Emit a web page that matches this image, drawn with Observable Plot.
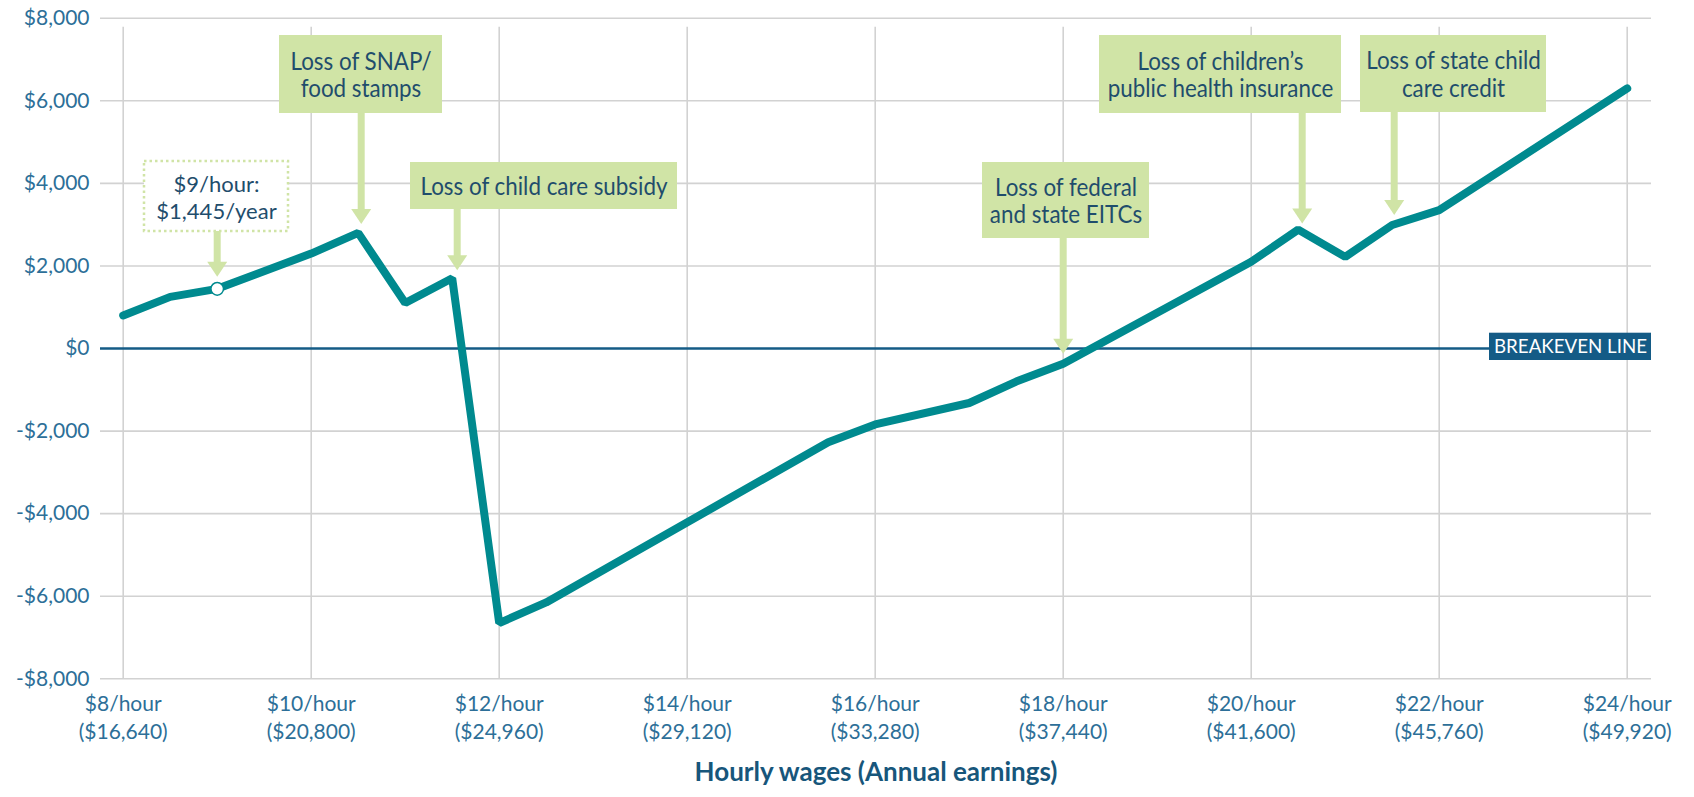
<!DOCTYPE html>
<html><head><meta charset="utf-8">
<script src="https://cdn.jsdelivr.net/npm/d3@7"></script>
<script src="https://cdn.jsdelivr.net/npm/@observablehq/plot@0.6"></script>
<style>html,body{margin:0;padding:0;background:#fff;} svg{display:block}</style>
</head><body><div id="chart"></div>
<script>
// ---------------- DATA ----------------
const wages        = [8, 8.5, 9, 10, 10.5, 11, 11.5, 12, 12.5, 15.5, 16, 17, 17.5, 18, 20, 20.5, 21, 21.5, 22, 24];
const netResources = [800, 1250, 1445, 2300, 2800, 1100, 1700, -6650, -6150, -2270, -1840, -1320, -800, -370, 2100, 2880, 2220, 2990, 3350, 6300];

const yTicks = [-8000, -6000, -4000, -2000, 0, 2000, 4000, 6000, 8000];
const xTicks = [8, 10, 12, 14, 16, 18, 20, 22, 24];
const xTickHourly = ["$8/hour", "$10/hour", "$12/hour", "$14/hour", "$16/hour", "$18/hour", "$20/hour", "$22/hour", "$24/hour"];
const xTickAnnual = ["($16,640)", "($20,800)", "($24,960)", "($29,120)", "($33,280)", "($37,440)", "($41,600)", "($45,760)", "($49,920)"];

const annotLabels = ["Loss of SNAP/\nfood stamps", "Loss of child care subsidy", "Loss of federal\nand state EITCs", "Loss of children\u2019s\npublic health insurance", "Loss of state child\ncare credit"];
const annotWages  = [10.5, 11.5, 18, 20.5, 21.5];

const highlightWage = 9;
const highlightLabel = "$9/hour:\n$1,445/year";
const breakevenLabel = "BREAKEVEN LINE";
const xTitle = "Hourly wages (Annual earnings)";

// ---------------- LAYOUT ----------------
const W = 1694, H = 797, mL = 100, mR = 43, mT = 17.7, mB = 118.7;
const xDomain = [7.7585, 24.2585], yDomain = [-8000, 8000];
const sx = d3.scaleLinear(xDomain, [mL, W - mR]);
const sy = d3.scaleLinear(yDomain, [H - mB, mT]);

// box: [left, right, top, bottom] in px; dx: arrow shift; gap: tip above point
const annotLayout = [
  {box: [279, 442, 35, 113], dx: 3, gap: 9},
  {box: [410, 677, 162, 209], dx: 5, gap: 8},
  {box: [982, 1149, 162, 238], dx: 0, gap: 10},
  {box: [1099, 1341, 35, 113], dx: 4, gap: 6},
  {box: [1360, 1546, 35, 112], dx: 2, gap: 10}
];
const highlightLayout = {box: [144, 288, 161, 231], dx: 0, gap: 12};
const breakevenBox = [1489, 1651, 332.7, 360];

const C = {
  line: "#008a8f", grid: "#d2d2d2", zero: "#145b86", green: "#d0e4a6",
  annText: "#1f4d6c", tick: "#2d6f98", title: "#17567b"
};
const baseFont = "Lato, 'Open Sans', sans-serif";

// ---------------- BUILD ----------------
const series = wages.map((w, i) => ({wage: w, net: netResources[i]}));
const valueAt = w => series.find(d => d.wage === w).net;

function buildAnnot(label, w, L) {
  const v = valueAt(w);
  const px = sx(w) + L.dx;
  const tip = sy(v) - L.gap;
  const [l, r, t, b] = L.box;
  return {
    label,
    x1: sx.invert(l), x2: sx.invert(r), y1: sy.invert(b), y2: sy.invert(t),
    cx: sx.invert((l + r) / 2), cy: sy.invert((t + b) / 2),
    ax: sx.invert(px), ay1: sy.invert(b), ay2: sy.invert(tip - 13), tip: sy.invert(tip)
  };
}
const annots = annotLabels.map((s, i) => buildAnnot(s, annotWages[i], annotLayout[i]));
const hl = buildAnnot(highlightLabel, highlightWage, highlightLayout);
const arrows = [...annots, hl];

const downTri = {draw(ctx) { ctx.moveTo(-10, -15); ctx.lineTo(10, -15); ctx.lineTo(0, 0); ctx.closePath(); }};

const fmtY = d => (d < 0 ? "-" : "") + "$" + d3.format(",")(Math.abs(d));

const be = {
  x1: sx.invert(breakevenBox[0]), x2: xDomain[1],
  y1: sy.invert(breakevenBox[3]), y2: sy.invert(breakevenBox[2]),
  cx: sx.invert((breakevenBox[0] + breakevenBox[1]) / 2), cy: sy.invert((breakevenBox[2] + breakevenBox[3]) / 2)
};

const chart = Plot.plot({
  width: W, height: H,
  marginLeft: mL, marginRight: mR, marginTop: mT, marginBottom: mB,
  x: {domain: xDomain, axis: null},
  y: {domain: yDomain, axis: null},
  style: {background: "#fff", fontFamily: baseFont},
  marks: [
    Plot.ruleY(yTicks.filter(d => d !== 0), {y: d => d, stroke: C.grid, strokeWidth: 1.6}),
    Plot.ruleX(xTicks, {x: d => d, y1: yDomain[0], y2: yDomain[1], insetBottom: -9, stroke: C.grid, strokeWidth: 1.6}),
    Plot.ruleY([0], {y: d => d, stroke: C.zero, strokeWidth: 2.5}),
    // breakeven label
    Plot.rect([be], {x1: "x1", x2: "x2", y1: "y1", y2: "y2", fill: C.zero}),
    Plot.text([be], {x: "cx", y: "cy", text: () => breakevenLabel, fill: "#fff", fontSize: 20}),
    // arrows
    Plot.ruleX(arrows, {x: "ax", y1: "ay1", y2: "ay2", stroke: C.green, strokeWidth: 7}),
    Plot.dot(arrows, {x: "ax", y: "tip", symbol: downTri, r: 8, fill: C.green, stroke: "none"}),
    // boxes
    Plot.rect(annots, {x1: "x1", x2: "x2", y1: "y1", y2: "y2", fill: C.green}),
    Plot.text(annots, {x: "cx", y: "cy", text: "label", fill: C.annText, fontSize: 24.5, lineHeight: 1.12}),
    Plot.rect([hl], {x1: "x1", x2: "x2", y1: "y1", y2: "y2", fill: "#fff", stroke: C.green, strokeWidth: 2.5, strokeDasharray: "2.5,3"}),
    Plot.text([hl], {x: "cx", y: "cy", text: "label", fill: C.annText, fontSize: 22, lineHeight: 1.22}),
    // series
    Plot.line(series, {x: "wage", y: "net", stroke: C.line, strokeWidth: 8, strokeLinejoin: "miter", strokeLinecap: "round"}),
    Plot.dot([{wage: highlightWage, net: valueAt(highlightWage)}], {x: "wage", y: "net", r: 6.3, fill: "#fff", stroke: C.line, strokeWidth: 1.5}),
    // axes text
    Plot.text(yTicks, {y: d => d, frameAnchor: "left", dx: -11, textAnchor: "end", text: fmtY, fill: C.tick, fontSize: 21}),
    Plot.text(xTicks, {x: d => d, frameAnchor: "bottom", dy: 31.7, text: (d, i) => xTickHourly[i], fill: C.tick, fontSize: 21}),
    Plot.text(xTicks, {x: d => d, frameAnchor: "bottom", dy: 60, text: (d, i) => xTickAnnual[i], fill: C.tick, fontSize: 21}),
    Plot.text([xTitle], {frameAnchor: "bottom", dy: 102, text: d => d, fill: C.title, fontSize: 26, fontWeight: 700})
  ]
});
document.getElementById("chart").appendChild(chart);

// Horizontally condense annotation lettering (textLength) to match the narrow face of the original
function condense(labels, refText, targetWidth) {
  const keys = new Set(labels.map(s => s.replace(/\n/g, "")));
  const texts = Array.from(chart.querySelectorAll("text")).filter(t => keys.has(t.textContent));
  let k = 1;
  texts.forEach(t => { if (t.textContent === refText) k = targetWidth / t.getComputedTextLength(); });
  if (!isFinite(k) || k <= 0) k = 1;
  texts.forEach(t => {
    const spans = t.querySelectorAll("tspan");
    const parts = spans.length ? Array.from(spans) : [t];
    const lens = parts.map(p => p.getComputedTextLength());
    parts.forEach((p, i) => {
      if (lens[i] > 0) {
        p.setAttribute("textLength", (lens[i] * k).toFixed(2));
        p.setAttribute("lengthAdjust", "spacingAndGlyphs");
      }
    });
  });
}
condense(annotLabels, "Loss of child care subsidy", 247);
condense([breakevenLabel], breakevenLabel, 153);
</script>
</body></html>
